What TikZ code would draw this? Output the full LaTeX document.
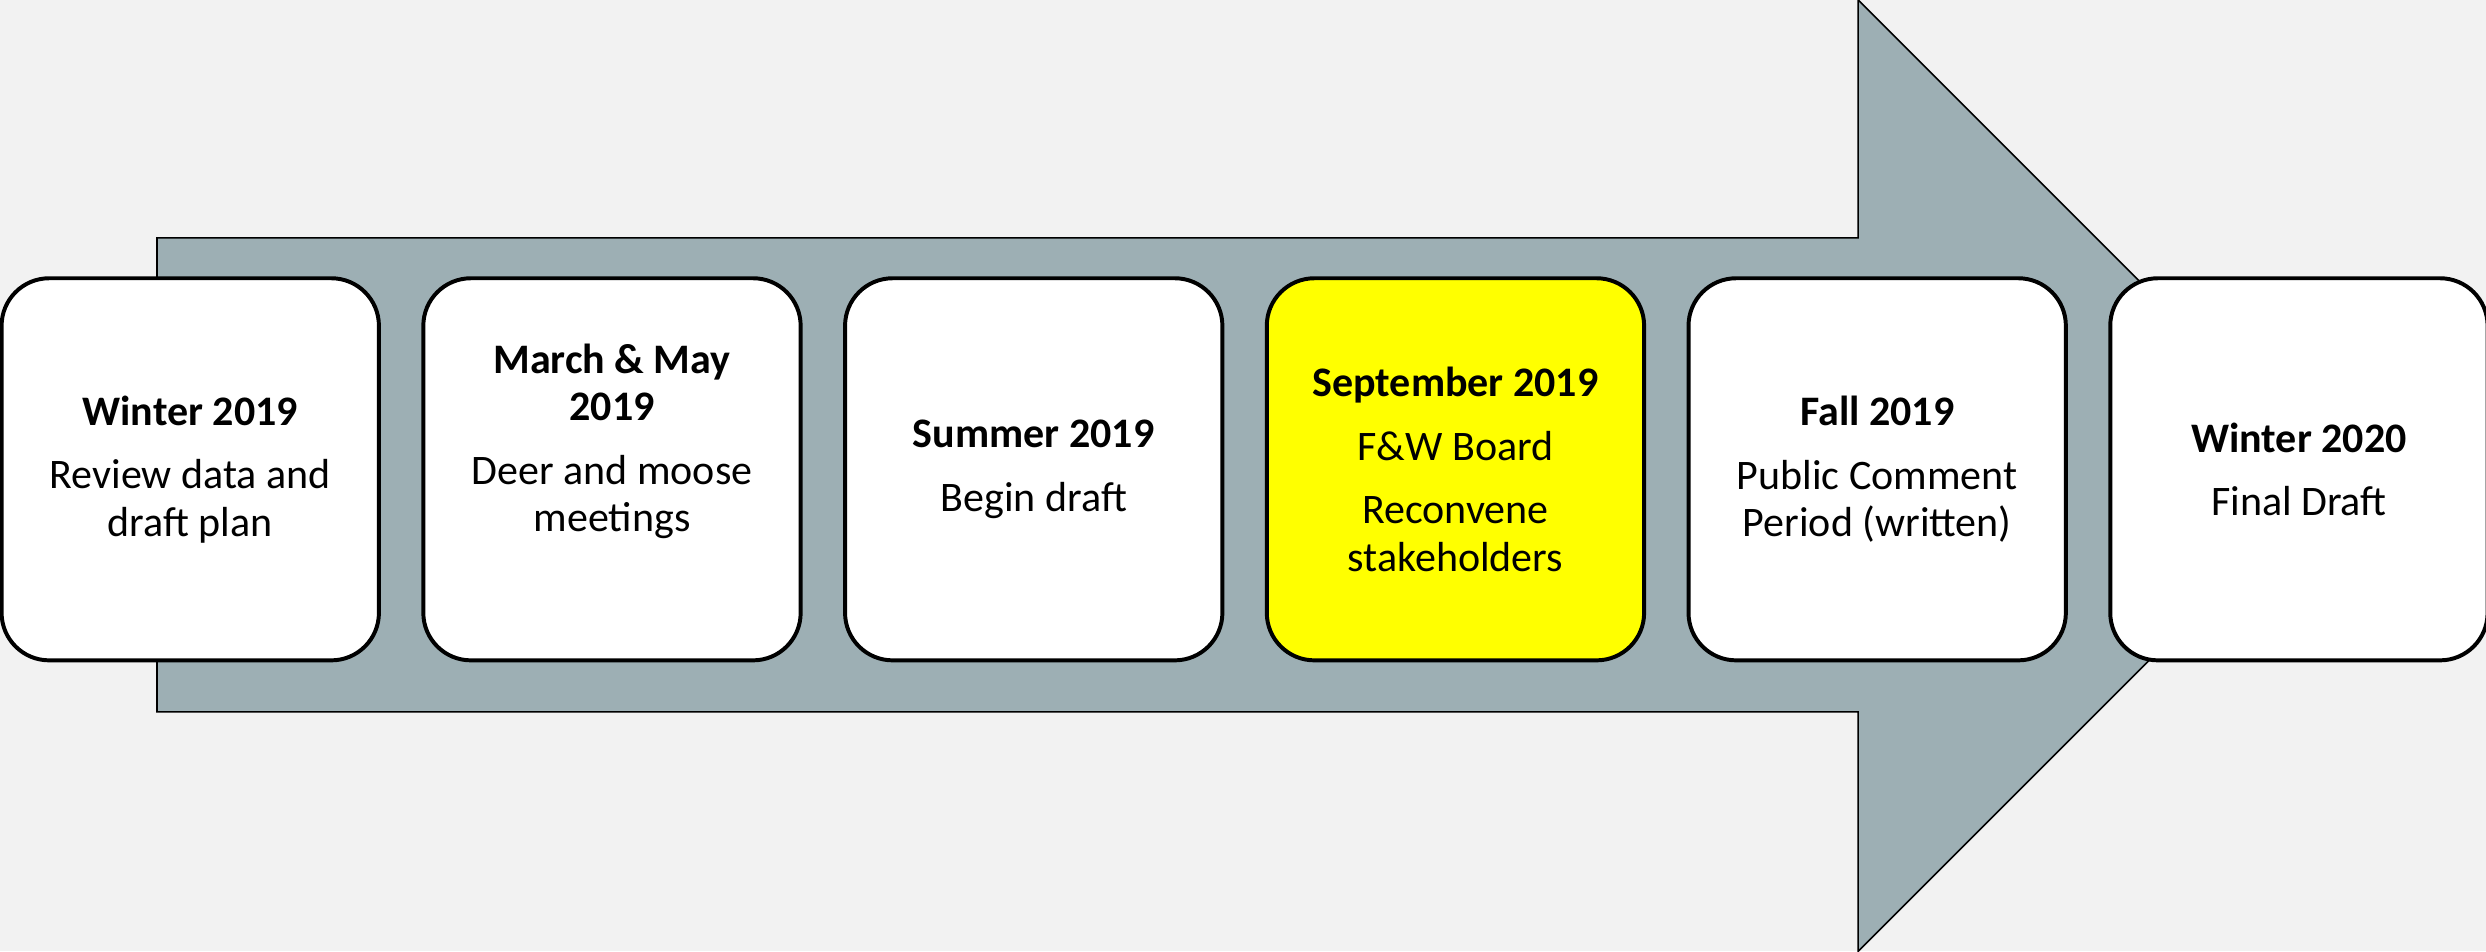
\documentclass[tikz,border=0pt]{standalone}
\usepackage{fontspec}
\setmainfont{Carlito}
\usepackage{xcolor}
\definecolor{bgray}{HTML}{F2F2F2}
\definecolor{arrowgray}{HTML}{9DAFB4}
\definecolor{hilite}{HTML}{FFFF00}
\tikzstyle{block} = [draw, fill=white, rectangle, rounded corners=30pt,
    line width=2.5pt, minimum height=241pt, minimum width=238pt,
    align=center, font=\fontsize{26.5}{30}\selectfont]
\tikzstyle{now} = [block, fill=hilite]
\tikzstyle{bigarrow} = [draw, fill=arrowgray, line width=1pt]

\begin{document}
\begin{tikzpicture}[x=1pt, y=-1pt, node distance=266pt]
    \fill [bgray] (0,0) rectangle (1568,600);
    \useasboundingbox (0,0) rectangle (1568,600);
    \draw [bigarrow] (99,150) -- (1172,150) -- (1172,0) -- (1472,300)
        -- (1172,600) -- (1172,449) -- (99,449) -- cycle;
    \node [block] (winter19) at (120,296) {\textbf{Winter 2019}\\[10pt] Review data and\\ draft plan};
    \node [block, right of=winter19] (marchmay) {\textbf{March \& May}\\ \textbf{2019}\\[10pt] Deer and moose\\ meetings\\[10pt]};
    \node [block, right of=marchmay] (summer) {\textbf{Summer 2019}\\[10pt] Begin draft};
    \node [now, right of=summer] (september) {\textbf{September 2019}\\[10pt] F\&W Board\\[10pt] Reconvene\\ stakeholders};
    \node [block, right of=september] (fall) {\textbf{Fall 2019}\\[10pt] Public Comment\\ Period (written)};
    \node [block, right of=fall] (winter20) {\textbf{Winter 2020}\\[10pt] Final Draft};
\end{tikzpicture}
\end{document}
